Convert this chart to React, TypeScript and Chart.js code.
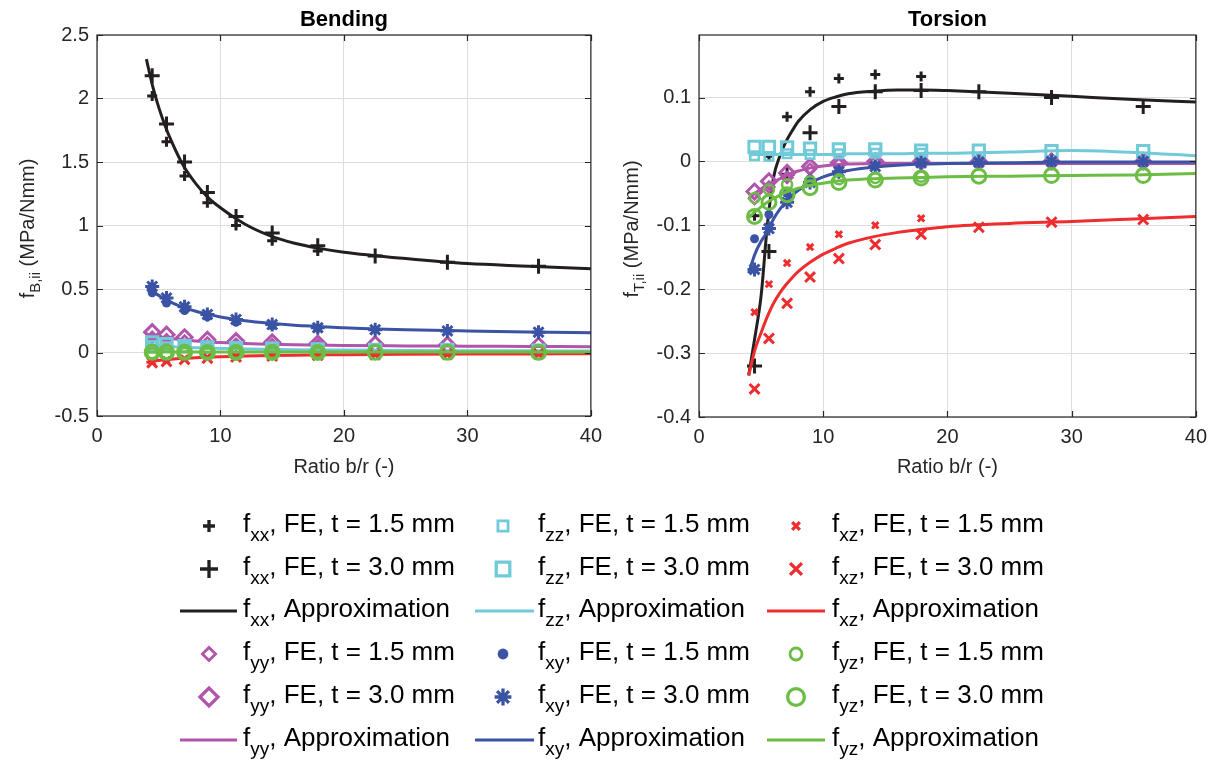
import React, { useEffect, useRef } from 'react';
import { Chart, registerables } from 'chart.js';
import { drawPoint } from 'chart.js/helpers';

Chart.register(...registerables);

const FONT = '"Liberation Sans", Arial, Helvetica, sans-serif';

// ---------- data ----------
const ratioFE15 = [4.47, 5.63, 7.09, 8.94, 11.26, 14.19, 17.88];
const ratioFE30 = [4.47, 5.63, 7.09, 8.94, 11.26, 14.19, 17.88, 22.53, 28.38, 35.76];

const bendApproxX = [4, 4.5, 5, 5.5, 6, 7, 8, 9, 10, 12, 14, 16, 18, 20, 25, 30, 35, 40];
const torsApproxX = [4, 4.5, 5, 5.5, 6, 6.5, 7, 7.5, 8, 9, 10, 11, 12, 14, 16, 18, 20, 25, 30, 35, 40];

// Bending FE
const bendXX15 = [2.02, 1.66, 1.39, 1.18, 1.0, 0.88, 0.8];
const bendXX30 = [2.18, 1.8, 1.5, 1.26, 1.07, 0.94, 0.84, 0.76, 0.71, 0.68];
const bendYY15 = [0.12, 0.1, 0.09, 0.075, 0.065, 0.06, 0.055];
const bendYY30 = [0.16, 0.14, 0.12, 0.1, 0.09, 0.08, 0.07, 0.065, 0.06, 0.055];
const bendZZ15 = [0.055, 0.045, 0.04, 0.03, 0.025, 0.02, 0.02];
const bendZZ30 = [0.08, 0.065, 0.05, 0.04, 0.035, 0.03, 0.025, 0.02, 0.02, 0.015];
const bendXY15 = [0.47, 0.39, 0.33, 0.28, 0.24, 0.21, 0.19];
const bendXY30 = [0.52, 0.43, 0.36, 0.3, 0.26, 0.22, 0.195, 0.18, 0.17, 0.16];
const bendXZ15 = [-0.07, -0.06, -0.05, -0.04, -0.03, -0.025, -0.02];
const bendXZ30 = [-0.08, -0.07, -0.055, -0.045, -0.035, -0.028, -0.022, -0.018, -0.015, -0.012];
const bendYZ15 = [-0.005, -0.005, -0.004, -0.004, -0.003, -0.003, -0.002];
const bendYZ30 = [0.002, 0.001, 0.001, 0.0, 0.0, 0.0, 0.0, 0.001, 0.001, 0.001];

// Bending approximations
const bendXXap = [2.31, 2.1, 1.93, 1.79, 1.67, 1.47, 1.33, 1.22, 1.14, 1.01, 0.92, 0.86, 0.82, 0.79, 0.74, 0.7, 0.68, 0.66];
const bendYYap = [0.145, 0.135, 0.125, 0.118, 0.11, 0.098, 0.09, 0.083, 0.078, 0.07, 0.065, 0.061, 0.058, 0.055, 0.052, 0.05, 0.048, 0.046];
const bendZZap = [0.07, 0.063, 0.057, 0.052, 0.048, 0.042, 0.038, 0.034, 0.032, 0.028, 0.025, 0.022, 0.02, 0.019, 0.016, 0.014, 0.013, 0.012];
const bendXYap = [0.52, 0.48, 0.45, 0.42, 0.395, 0.355, 0.325, 0.3, 0.28, 0.25, 0.23, 0.215, 0.205, 0.195, 0.18, 0.17, 0.162, 0.155];
const bendXZap = [-0.078, -0.07, -0.063, -0.058, -0.053, -0.046, -0.041, -0.037, -0.033, -0.028, -0.024, -0.021, -0.019, -0.017, -0.014, -0.012, -0.011, -0.01];
const bendYZap = [0.002, 0.002, 0.003, 0.003, 0.003, 0.003, 0.004, 0.004, 0.004, 0.004, 0.004, 0.004, 0.004, 0.004, 0.004, 0.004, 0.004, 0.004];

// Torsion FE
const torsXX15 = [-0.085, 0.008, 0.07, 0.109, 0.13, 0.136, 0.133];
const torsXX30 = [-0.32, -0.141, -0.02, 0.045, 0.086, 0.109, 0.111, 0.109, 0.1, 0.086];
const torsYY15 = [-0.058, -0.04, -0.025, -0.012, -0.004, -0.001, 0.0];
const torsYY30 = [-0.047, -0.031, -0.018, -0.008, -0.002, 0.0, 0.0, 0.0, 0.0, 0.0];
const torsZZ15 = [0.009, 0.008, 0.012, 0.011, 0.012, 0.013, 0.013];
const torsZZ30 = [0.023, 0.023, 0.022, 0.02, 0.019, 0.019, 0.017, 0.017, 0.016, 0.016];
const torsXY15 = [-0.121, -0.083, -0.05, -0.027, -0.014, -0.006, -0.002];
const torsXY30 = [-0.169, -0.105, -0.064, -0.033, -0.016, -0.008, -0.002, -0.001, 0.0, 0.0];
const torsXZ15 = [-0.236, -0.192, -0.159, -0.134, -0.114, -0.1, -0.089];
const torsXZ30 = [-0.356, -0.277, -0.222, -0.181, -0.152, -0.13, -0.114, -0.103, -0.095, -0.091];
const torsYZ15 = [-0.057, -0.044, -0.036, -0.031, -0.028, -0.026, -0.024];
const torsYZ30 = [-0.086, -0.064, -0.052, -0.041, -0.033, -0.029, -0.026, -0.023, -0.022, -0.022];

// Torsion approximations
const torsXXap = [-0.335, -0.275, -0.21, -0.1, -0.025, 0.008, 0.031, 0.048, 0.063, 0.082, 0.094, 0.101, 0.106, 0.11, 0.112, 0.112, 0.111, 0.107, 0.102, 0.097, 0.093];
const torsYYap = [-0.058, -0.05, -0.043, -0.037, -0.032, -0.027, -0.022, -0.018, -0.015, -0.01, -0.007, -0.005, -0.004, -0.003, -0.003, -0.003, -0.003, -0.003, -0.003, -0.003, -0.003];
const torsZZap = [0.01, 0.011, 0.011, 0.011, 0.011, 0.011, 0.011, 0.011, 0.011, 0.011, 0.011, 0.011, 0.012, 0.012, 0.012, 0.013, 0.013, 0.015, 0.017, 0.014, 0.009];
const torsXYap = [-0.175, -0.145, -0.125, -0.11, -0.09, -0.075, -0.063, -0.053, -0.045, -0.033, -0.024, -0.018, -0.014, -0.009, -0.006, -0.004, -0.003, -0.002, -0.001, -0.001, -0.001];
const torsXZap = [-0.335, -0.295, -0.268, -0.243, -0.222, -0.206, -0.193, -0.182, -0.172, -0.157, -0.145, -0.136, -0.128, -0.118, -0.111, -0.106, -0.102, -0.097, -0.094, -0.09, -0.086];
const torsYZap = [-0.088, -0.079, -0.071, -0.064, -0.058, -0.053, -0.048, -0.045, -0.042, -0.037, -0.034, -0.031, -0.029, -0.027, -0.026, -0.025, -0.024, -0.023, -0.022, -0.021, -0.019];

// ticks
const xTicks = [0, 10, 20, 30, 40];
const bendYTicks = [-0.5, 0, 0.5, 1, 1.5, 2, 2.5];
const torsYTicks = [-0.4, -0.3, -0.2, -0.1, 0, 0.1];

// ---------- styles ----------
const COLORS: Record<string, string> = {
  xx: '#231f20',
  yy: '#b155ab',
  zz: '#70cad8',
  xy: '#3a53a4',
  xz: '#ee2d2f',
  yz: '#6cbd45',
};

const MARK: Record<string, any> = {
  xx15: { pointStyle: 'cross', radius: 5, borderWidth: 3, fill: false },
  xx30: { pointStyle: 'cross', radius: 7.5, borderWidth: 3, fill: false },
  yy15: { pointStyle: 'rectRot', radius: 5.5, borderWidth: 2.5, fill: false },
  yy30: { pointStyle: 'rectRot', radius: 7.5, borderWidth: 3, fill: false },
  zz15: { pointStyle: 'rect', radius: 6, borderWidth: 2.5, fill: false },
  zz30: { pointStyle: 'rect', radius: 8, borderWidth: 3, fill: false },
  xy15: { pointStyle: 'circle', radius: 4.5, borderWidth: 0, fill: true },
  xy30: { pointStyle: 'star', radius: 7, borderWidth: 3, fill: false },
  xz15: { pointStyle: 'crossRot', radius: 4.5, borderWidth: 3, fill: false },
  xz30: { pointStyle: 'crossRot', radius: 7, borderWidth: 3, fill: false },
  yz15: { pointStyle: 'circle', radius: 5, borderWidth: 2.5, fill: false },
  yz30: { pointStyle: 'circle', radius: 7, borderWidth: 3, fill: false },
};

const pts = (xs: number[], ys: number[]) => ys.map((y, i) => ({ x: xs[i], y }));

function markerDataset(key: string, comp: string, xs: number[], ys: number[]) {
  const m = MARK[key];
  const c = COLORS[comp];
  return {
    data: pts(xs, ys),
    showLine: false,
    pointStyle: m.pointStyle,
    pointRadius: m.radius,
    pointHoverRadius: m.radius,
    pointBorderWidth: m.borderWidth,
    pointBorderColor: c,
    pointBackgroundColor: m.fill ? c : 'rgba(0,0,0,0)',
  };
}

function lineDataset(comp: string, xs: number[], ys: number[]) {
  return {
    data: pts(xs, ys),
    showLine: true,
    borderColor: COLORS[comp],
    borderWidth: 3,
    pointRadius: 0,
    pointHoverRadius: 0,
    cubicInterpolationMode: 'monotone',
    fill: false,
  };
}

function buildDatasets(series: Record<string, number[][]>, apX: number[]) {
  const order = ['xx', 'yy', 'zz', 'xy', 'xz', 'yz'];
  const ds: any[] = [];
  order.forEach((comp) => {
    const [fe15, fe30, ap] = series[comp];
    ds.push(markerDataset(comp + '15', comp, ratioFE15, fe15));
    ds.push(markerDataset(comp + '30', comp, ratioFE30, fe30));
    ds.push(lineDataset(comp, apX, ap));
  });
  ds.forEach((d, i) => (d.order = -i));
  return ds;
}

const framePlugin = {
  id: 'frame',
  afterDraw(chart: any, _args: any, opts: any) {
    const { ctx, chartArea: a, scales } = chart;
    ctx.save();
    ctx.strokeStyle = '#262626';
    ctx.lineWidth = 1.2;
    ctx.strokeRect(a.left, a.top, a.right - a.left, a.bottom - a.top);
    const tl = 6;
    ctx.beginPath();
    for (const v of opts.xTicks) {
      const px = Math.round(scales.x.getPixelForValue(v)) + 0.5;
      ctx.moveTo(px, a.bottom);
      ctx.lineTo(px, a.bottom - tl);
      ctx.moveTo(px, a.top);
      ctx.lineTo(px, a.top + tl);
    }
    for (const v of opts.yTicks) {
      const py = Math.round(scales.y.getPixelForValue(v)) + 0.5;
      ctx.moveTo(a.left, py);
      ctx.lineTo(a.left + tl, py);
      ctx.moveTo(a.right, py);
      ctx.lineTo(a.right - tl, py);
    }
    ctx.stroke();

    // title
    ctx.fillStyle = '#000';
    ctx.font = `bold 22px ${FONT}`;
    ctx.textAlign = 'center';
    ctx.textBaseline = 'alphabetic';
    ctx.fillText(opts.title, (a.left + a.right) / 2, 26);

    // y label with subscript
    ctx.fillStyle = '#262626';
    const mainFont = `20px ${FONT}`;
    const subFont = `15px ${FONT}`;
    ctx.font = mainFont;
    const w1 = ctx.measureText('f').width;
    const w3 = ctx.measureText(' (MPa/Nmm)').width;
    ctx.font = subFont;
    const w2 = ctx.measureText(opts.ysub).width;
    const total = w1 + w2 + w3;
    ctx.translate(opts.ylabelX, (a.top + a.bottom) / 2 + 3);
    ctx.rotate(-Math.PI / 2);
    ctx.textAlign = 'left';
    let x = -total / 2;
    ctx.font = mainFont;
    ctx.fillText('f', x, 0);
    x += w1;
    ctx.font = subFont;
    ctx.fillText(opts.ysub, x, 6);
    x += w2;
    ctx.font = mainFont;
    ctx.fillText(' (MPa/Nmm)', x, 0);
    ctx.restore();
  },
};

function makeConfig(opts: {
  datasets: any[];
  yMin: number;
  yMax: number;
  yTicks: number[];
  yWidth: number;
  xHeight: number;
  padRight: number;
  title: string;
  ysub: string;
  ylabelX: number;
}) {
  return {
    type: 'scatter',
    data: { datasets: opts.datasets },
    plugins: [framePlugin],
    options: {
      responsive: false,
      devicePixelRatio: 1,
      animation: false,
      events: [],
      layout: { padding: { left: 0, top: 35, right: opts.padRight, bottom: 0 } },
      plugins: {
        legend: { display: false },
        tooltip: { enabled: false },
        frame: { xTicks, yTicks: opts.yTicks, title: opts.title, ysub: opts.ysub, ylabelX: opts.ylabelX },
      },
      scales: {
        x: {
          type: 'linear',
          min: 0,
          max: 40,
          afterBuildTicks: (s: any) => {
            s.ticks = xTicks.map((v) => ({ value: v }));
          },
          afterFit: (s: any) => {
            s.height = opts.xHeight;
          },
          ticks: {
            font: { family: FONT, size: 20 },
            color: '#262626',
            padding: 8,
            maxRotation: 0,
            autoSkip: false,
            callback: (v: any) => String(v),
          },
          grid: { color: '#dedede', lineWidth: 1, drawTicks: false },
          border: { display: false },
          title: {
            display: true,
            text: 'Ratio b/r (-)',
            color: '#262626',
            font: { family: FONT, size: 20 },
            padding: { top: 0, bottom: 11 },
          },
        },
        y: {
          type: 'linear',
          min: opts.yMin,
          max: opts.yMax,
          afterBuildTicks: (s: any) => {
            s.ticks = opts.yTicks.map((v) => ({ value: v }));
          },
          afterFit: (s: any) => {
            s.width = opts.yWidth;
          },
          ticks: {
            font: { family: FONT, size: 20 },
            color: '#262626',
            padding: 8,
            autoSkip: false,
            callback: (v: any) => String(v),
          },
          grid: { color: '#dedede', lineWidth: 1, drawTicks: false },
          border: { display: false },
        },
      },
    },
  };
}

// ---------- legend ----------
const legendRows = [526, 569, 611, 654, 697, 740];
const legendCols = [
  { marker: 209, line: [180, 237], text: 243 },
  { marker: 503, line: [475, 534], text: 538 },
  { marker: 796, line: [767, 825], text: 832 },
];
const legendEntries = [
  [
    ['xx', 'xx15', 'FE, t = 1.5 mm'],
    ['xx', 'xx30', 'FE, t = 3.0 mm'],
    ['xx', '', 'Approximation'],
    ['yy', 'yy15', 'FE, t = 1.5 mm'],
    ['yy', 'yy30', 'FE, t = 3.0 mm'],
    ['yy', '', 'Approximation'],
  ],
  [
    ['zz', 'zz15', 'FE, t = 1.5 mm'],
    ['zz', 'zz30', 'FE, t = 3.0 mm'],
    ['zz', '', 'Approximation'],
    ['xy', 'xy15', 'FE, t = 1.5 mm'],
    ['xy', 'xy30', 'FE, t = 3.0 mm'],
    ['xy', '', 'Approximation'],
  ],
  [
    ['xz', 'xz15', 'FE, t = 1.5 mm'],
    ['xz', 'xz30', 'FE, t = 3.0 mm'],
    ['xz', '', 'Approximation'],
    ['yz', 'yz15', 'FE, t = 1.5 mm'],
    ['yz', 'yz30', 'FE, t = 3.0 mm'],
    ['yz', '', 'Approximation'],
  ],
];

function drawLegend(canvas: HTMLCanvasElement, top: number) {
  const ctx = canvas.getContext('2d');
  if (!ctx) return;
  ctx.clearRect(0, 0, canvas.width, canvas.height);
  const fs = 26;
  const sfs = 19;
  const mscale = 1.2;
  legendEntries.forEach((col, ci) => {
    const c = legendCols[ci];
    col.forEach((entry, ri) => {
      const [comp, mk, label] = entry;
      const y = legendRows[ri] - top;
      const color = COLORS[comp];
      ctx.save();
      if (mk) {
        const m = MARK[mk];
        ctx.lineWidth = m.borderWidth + 0.3;
        ctx.strokeStyle = color;
        ctx.fillStyle = m.fill ? color : 'rgba(0,0,0,0)';
        drawPoint(
          ctx,
          { pointStyle: m.pointStyle, rotation: 0, radius: m.radius * mscale, borderWidth: m.borderWidth } as any,
          c.marker,
          y
        );
      } else {
        ctx.strokeStyle = color;
        ctx.lineWidth = 3;
        ctx.beginPath();
        ctx.moveTo(c.line[0], y);
        ctx.lineTo(c.line[1], y);
        ctx.stroke();
      }
      ctx.restore();
      // text
      ctx.save();
      ctx.fillStyle = '#000';
      ctx.textAlign = 'left';
      ctx.textBaseline = 'alphabetic';
      const base = y + 6;
      let x = c.text;
      ctx.font = `${fs}px ${FONT}`;
      ctx.fillText('f', x, base);
      x += ctx.measureText('f').width;
      ctx.font = `${sfs}px ${FONT}`;
      ctx.fillText(comp, x, base + 9);
      x += ctx.measureText(comp).width;
      ctx.font = `${fs}px ${FONT}`;
      ctx.fillText(', ' + label, x, base);
      ctx.restore();
    });
  });
}

export default function App() {
  const leftRef = useRef<HTMLCanvasElement>(null);
  const rightRef = useRef<HTMLCanvasElement>(null);
  const legendRef = useRef<HTMLCanvasElement>(null);

  useEffect(() => {
    const bendSeries = {
      xx: [bendXX15, bendXX30, bendXXap],
      yy: [bendYY15, bendYY30, bendYYap],
      zz: [bendZZ15, bendZZ30, bendZZap],
      xy: [bendXY15, bendXY30, bendXYap],
      xz: [bendXZ15, bendXZ30, bendXZap],
      yz: [bendYZ15, bendYZ30, bendYZap],
    };
    const torsSeries = {
      xx: [torsXX15, torsXX30, torsXXap],
      yy: [torsYY15, torsYY30, torsYYap],
      zz: [torsZZ15, torsZZ30, torsZZap],
      xy: [torsXY15, torsXY30, torsXYap],
      xz: [torsXZ15, torsXZ30, torsXZap],
      yz: [torsYZ15, torsYZ30, torsYZap],
    };
    const c1 = new Chart(
      leftRef.current as HTMLCanvasElement,
      makeConfig({
        datasets: buildDatasets(bendSeries, bendApproxX),
        yMin: -0.5,
        yMax: 2.5,
        yTicks: bendYTicks,
        yWidth: 97,
        xHeight: 74,
        padRight: 17,
        title: 'Bending',
        ysub: 'B,ii',
        ylabelX: 34,
      }) as any
    );
    const c2 = new Chart(
      rightRef.current as HTMLCanvasElement,
      makeConfig({
        datasets: buildDatasets(torsSeries, torsApproxX),
        yMin: -0.4,
        yMax: 0.198,
        yTicks: torsYTicks,
        yWidth: 92,
        xHeight: 73,
        padRight: 18,
        title: 'Torsion',
        ysub: 'T,ii',
        ylabelX: 31,
      }) as any
    );
    if (legendRef.current) drawLegend(legendRef.current, 490);
    return () => {
      c1.destroy();
      c2.destroy();
    };
  }, []);

  return (
    <div style={{ position: 'absolute', left: 0, top: 0, width: 1215, height: 766, background: '#fff' }}>
      <canvas ref={leftRef} width={610} height={490} style={{ position: 'absolute', left: 0, top: 0 }} />
      <canvas ref={rightRef} width={608} height={490} style={{ position: 'absolute', left: 607, top: 0 }} />
      <canvas ref={legendRef} width={1215} height={276} style={{ position: 'absolute', left: 0, top: 490 }} />
    </div>
  );
}
